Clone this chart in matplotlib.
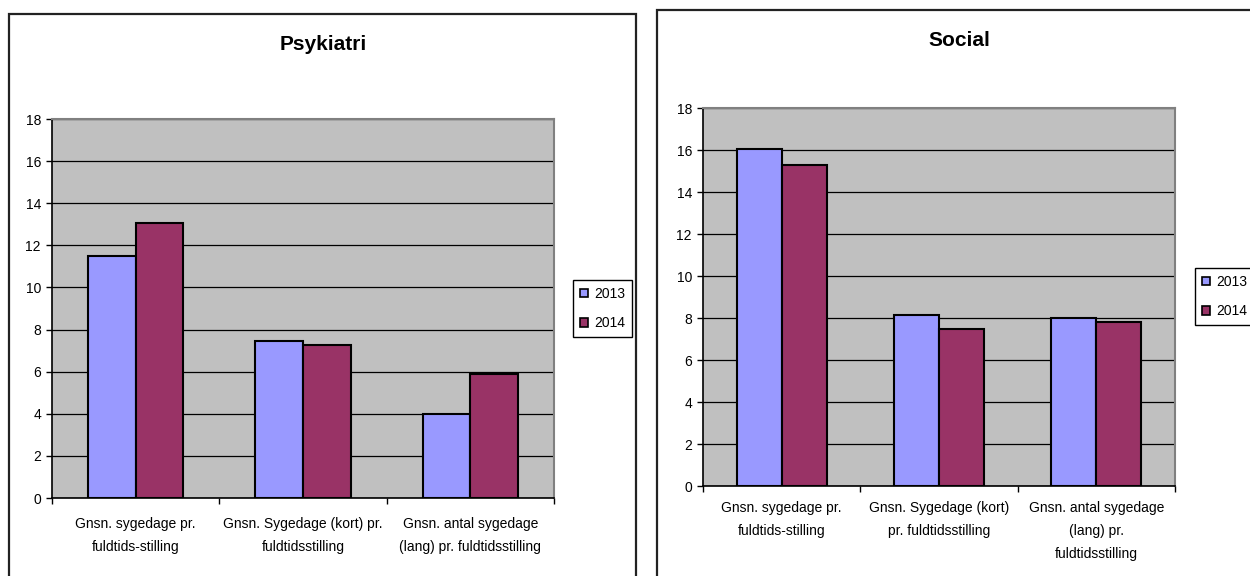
import matplotlib
matplotlib.use('Agg')
import matplotlib.pyplot as plt
from matplotlib.patches import Rectangle, Patch
import numpy as np

plt.rcParams['font.family'] = ['Liberation Sans', 'DejaVu Sans']

years = ['2013', '2014']
colors = ['#9999FF', '#993366']

psyk_labels = ['Gnsn. sygedage pr.\nfuldtids-stilling',
               'Gnsn. Sygedage (kort) pr.\nfuldtidsstilling',
               'Gnsn. antal sygedage\n(lang) pr. fuldtidsstilling']
psyk_2013 = [11.5, 7.45, 4.0]
psyk_2014 = [13.05, 7.25, 5.9]

social_labels = ['Gnsn. sygedage pr.\nfuldtids-stilling',
                 'Gnsn. Sygedage (kort)\npr. fuldtidsstilling',
                 'Gnsn. antal sygedage\n(lang) pr.\nfuldtidsstilling']
social_2013 = [16.05, 8.15, 8.0]
social_2014 = [15.3, 7.5, 7.8]

W, H = 1250, 576
fig = plt.figure(figsize=(W / 100, H / 100), dpi=100)


def fx(px):
    return px / W


def fy(py):
    return 1 - py / H


def chart(rect, frame, title, title_xy, labels, v13, v14, legend_rect, label_pad):
    # outer chart border
    fig.add_artist(Rectangle((fx(frame[0]), fy(frame[1] + frame[3])),
                             frame[2] / W, frame[3] / H,
                             transform=fig.transFigure, fill=False,
                             edgecolor='#222222', lw=1.6, clip_on=False))
    fig.text(fx(title_xy[0]), fy(title_xy[1]), title, ha='center', va='center',
             fontsize=15, fontweight='bold')

    ax = fig.add_axes([fx(rect[0]), fy(rect[1] + rect[3]), rect[2] / W, rect[3] / H])
    ax.set_facecolor('#C0C0C0')
    x = np.arange(len(labels))
    w = 1 / 3.5
    ax.bar(x - w / 2, v13, w, color=colors[0], edgecolor='black', lw=1.5, zorder=3)
    ax.bar(x + w / 2, v14, w, color=colors[1], edgecolor='black', lw=1.5, zorder=3)

    ax.set_xlim(-0.5, len(labels) - 0.5)
    ax.set_ylim(0, 18)
    ax.set_yticks(range(0, 19, 2))
    ax.yaxis.grid(True, color='black', lw=0.9, zorder=0)
    ax.set_axisbelow(True)
    ax.tick_params(axis='y', length=4, width=1, labelsize=10, pad=4, direction='out')

    ax.set_xticks(x)
    ax.set_xticklabels(labels, fontsize=10, linespacing=1.8)
    ax.tick_params(axis='x', which='major', length=0, pad=label_pad)
    ax.set_xticks(np.arange(len(labels) + 1) - 0.5, minor=True)
    ax.tick_params(axis='x', which='minor', length=4, width=1, direction='out')

    for s in ['top', 'right']:
        ax.spines[s].set_color('#808080')
        ax.spines[s].set_linewidth(1.5)
    for s in ['left', 'bottom']:
        ax.spines[s].set_color('black')
        ax.spines[s].set_linewidth(1.2)

    handles = [Patch(facecolor=c, edgecolor='black', lw=1.2) for c in colors]
    fig.legend(handles, years, loc='center left',
               bbox_to_anchor=(fx(legend_rect[0]), fy(legend_rect[1])),
               fontsize=10, frameon=True, fancybox=False, edgecolor='black',
               framealpha=1, handlelength=0.6, handleheight=0.6,
               handletextpad=0.4, labelspacing=1.1, borderpad=0.5,
               borderaxespad=0)
    return ax


chart((52, 119, 502, 379), (9, 14, 627, 600), 'Psykiatri', (323, 45),
      psyk_labels, psyk_2013, psyk_2014, (573, 308.5), 14)
chart((703, 108, 472, 378), (657, 10, 620, 600), 'Social', (959, 41),
      social_labels, social_2013, social_2014, (1195, 296.5), 11)

fig.savefig('out.png', dpi=100)
